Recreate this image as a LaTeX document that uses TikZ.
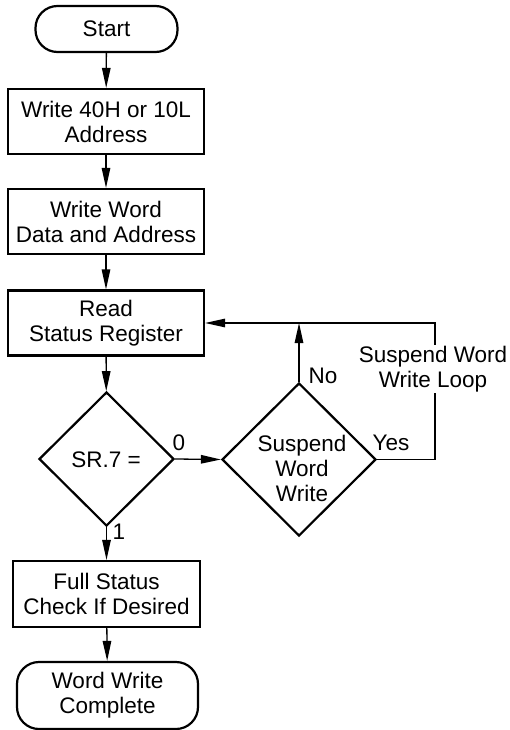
\documentclass[tikz,border=0pt]{standalone}
\usepackage{fontspec}
\setmainfont{Liberation Sans}
\usepackage{tikz}
\usetikzlibrary{arrows.meta,shapes.geometric,positioning}
\tikzstyle{box}=[rectangle,draw,line width=2.2pt,minimum width=196pt,minimum height=65pt,align=center,inner sep=0pt]
\tikzstyle{term}=[rectangle,draw,line width=2.2pt,rounded corners=22pt,align=center,inner sep=0pt]
\tikzstyle{test}=[diamond,draw,line width=2.2pt,inner sep=0pt]
\tikzstyle{edge}=[-{Triangle[length=20pt,width=8.5pt]},line width=1.3pt]
\tikzstyle{lab}=[inner sep=1pt,align=center]

\begin{document}
\begin{tikzpicture}[x=1pt,y=-1pt,font=\fontsize{22.5}{25}\selectfont]
  \useasboundingbox (0,0) rectangle (510,730);
  % main column
  \node[term,minimum width=142pt,minimum height=46pt] (start) at (106.5,29) {Start};
  \node[box] (addr) at (106,121.5) {Write 40H or 10L\\Address};
  \node[box] (data) at (106,221.5) {Write Word\\Data and Address};
  \node[box] (status) at (106,323) {Read\\Status Register};
  \node[test,minimum width=135pt,minimum height=134pt] (sr) at (106.5,459) {};
  \node (srtext) at (106,460) {SR.7 =};
  \node[box,minimum width=187pt,minimum height=66pt] (full) at (106.5,594) {Full Status\\Check If Desired};
  \node[term,minimum width=181pt,minimum height=67pt] (done) at (107.5,695.5) {Word Write\\Complete};
  % suspend test
  \node[test,minimum width=154pt,minimum height=153pt] (susp) at (299,459.5) {};
  \node[lab] (susptext) at (302,468) {Suspend\\Word\\Write};
  \coordinate (looptop) at (435,323);

  \draw[edge] (start) -- (addr);
  \draw[edge] (addr) -- (data);
  \draw[edge] (data) -- (status);
  \draw[edge] (status) -- (sr);
  \draw[edge] (sr) -- (full);
  \draw[edge] (full) -- (done);
  \draw[edge] (sr.east) -- (susp.west);
  \draw[edge] (susp.north) -- (susp.north |- looptop);
  \draw[edge] (susp.east) -| (looptop) -- (looptop -| status.east);

  % labels
  \node[lab] (zero) at (179,443) {0};
  \node[lab] (one) at (119,532) {1};
  \node[lab] (no) at (323,376) {No};
  \node[lab] (yes) at (391,443) {Yes};
  \node[lab,fill=white] (loop) at (433,369) {Suspend Word\\Write Loop};
\end{tikzpicture}
\end{document}
